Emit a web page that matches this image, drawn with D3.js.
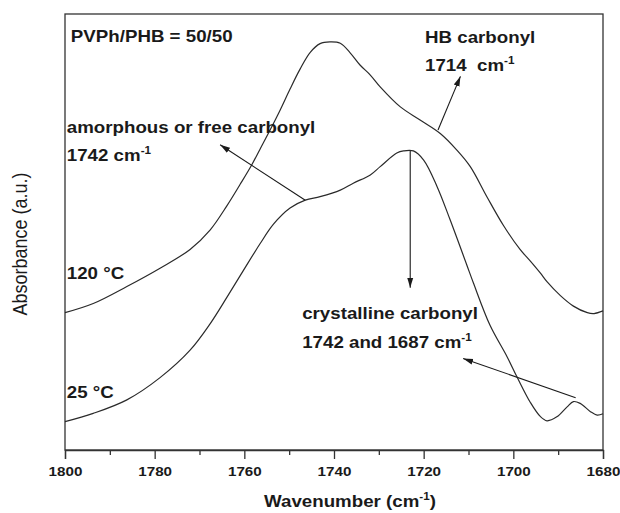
<!DOCTYPE html>
<html><head><meta charset="utf-8">
<script src="https://cdn.jsdelivr.net/npm/d3@7"></script>
<style>html,body{margin:0;padding:0;background:#fff;} svg{display:block;} text{white-space:pre;}</style>
</head><body><svg id="c" width="620" height="513"></svg>
<script>
// ---- data ----
const xTicks = [1800, 1780, 1760, 1740, 1720, 1700, 1680];
const xMinorTicks = [1790, 1770, 1750, 1730, 1710, 1690];
const xDomain = [1800, 1680];
const yDomain = [0, 100];

// 120 °C spectrum (wavenumber, absorbance a.u.)
const wn120 = [1800, 1793.7, 1786.2, 1778.8, 1772.1, 1767.6, 1763.9, 1760.9, 1758.3, 1756.5, 1754.2, 1752.0, 1749.8, 1747.6, 1745.3, 1743.1, 1740.9, 1738.6, 1736.4, 1734.2, 1731.9, 1729.7, 1725.2, 1720.8, 1716.3, 1712.6, 1709.6, 1705.9, 1702.2, 1698.5, 1696.2, 1694.0, 1692.5, 1689.5, 1686.6, 1683.5, 1682.0, 1680];
const abs120 = [31.5, 33.6, 37.5, 41.7, 46.0, 50.5, 56.0, 61.0, 65.5, 69.0, 73.5, 78.0, 82.8, 87.3, 91.2, 93.2, 93.6, 93.3, 91.1, 88.3, 86.0, 83.3, 78.7, 75.7, 72.6, 68.8, 65.0, 58.1, 51.5, 46.0, 43.3, 40.6, 38.6, 35.4, 33.0, 31.5, 31.3, 31.9];

// 25 °C spectrum
const wn25 = [1800, 1793.7, 1786.2, 1778.8, 1772.1, 1767.6, 1763.9, 1760.2, 1756.5, 1753.5, 1749.8, 1746.4, 1743.1, 1738.6, 1735.7, 1731.9, 1729.7, 1726.0, 1724.5, 1722.3, 1720.0, 1717.0, 1714.1, 1710.4, 1708.9, 1705.2, 1701.4, 1699.2, 1696.2, 1694.0, 1692.5, 1690.3, 1688.0, 1686.6, 1685.1, 1682.8, 1681.3, 1680];
const abs25 = [6.5, 8.4, 11.5, 16.6, 22.9, 29.0, 35.0, 41.2, 47.3, 51.8, 55.5, 57.3, 58.1, 59.6, 61.2, 63.1, 65.0, 68.1, 68.6, 68.6, 66.5, 60.4, 52.8, 42.5, 38.3, 28.6, 21.4, 16.8, 10.9, 7.7, 6.7, 7.6, 9.9, 11.1, 10.7, 8.8, 8.0, 8.3];

// annotation texts (anchor in data coordinates: wavenumber, absorbance)
const labelText = ["PVPh/PHB = 50/50", "amorphous or free carbonyl", "1742 cm", "HB carbonyl", "1714  cm", "120 °C", "25 °C", "crystalline carbonyl", "1742 and 1687 cm"];
const labelSup = ["", "", "-1", "", "-1", "", "", "", "-1"];
const labelWn = [1798.7, 1799.6, 1799.6, 1719.7, 1719.7, 1799.6, 1799.6, 1747.1, 1747.1];
const labelAbs = [93.6, 72.7, 66.3, 93.3, 86.9, 39.2, 11.9, 30.0, 23.4];

// arrows: from (wn, abs) to (wn, abs)
const arrowFromWn = [1746.4, 1716.8, 1723.0, 1686.1];
const arrowFromAbs = [57.3, 73.4, 68.6, 12.0];
const arrowToWn = [1765.4, 1711.8, 1723.0, 1711.2];
const arrowToAbs = [70.0, 85.7, 37.2, 21.0];

const xTitle = "Wavenumber (cm";
const yTitle = "Absorbance (a.u.)";

// ---- drawing ----
const W = 620, H = 513;
const m = {left: 65, right: 17, top: 14, bottom: 63};
const svg = d3.select("#c");
const x = d3.scaleLinear().domain(xDomain).range([m.left, W - m.right]);
const y = d3.scaleLinear().domain(yDomain).range([H - m.bottom, m.top]);
const FONT = "'Liberation Sans', Arial, Helvetica, sans-serif";
const SX = 1.17;
const ink = "#1a1a1a";

const defs = svg.append("defs");
defs.append("marker").attr("id", "ah").attr("viewBox", "0 -4 10 8")
  .attr("refX", 10).attr("refY", 0).attr("markerWidth", 10).attr("markerHeight", 8)
  .attr("markerUnits", "userSpaceOnUse").attr("orient", "auto")
  .append("path").attr("d", "M0,-3L10,0L0,3Z").attr("fill", ink);

// frame
svg.append("rect").attr("x", x(1800)).attr("y", y(100))
  .attr("width", x(1680) - x(1800)).attr("height", y(0) - y(100))
  .attr("fill", "none").attr("stroke", "#333").attr("stroke-width", 1.3);

// axis
const xAxis = d3.axisBottom(x).tickValues(xTicks).tickFormat(d3.format("d")).tickSize(9).tickPadding(8);
const gx = svg.append("g").attr("transform", `translate(0,${y(0)})`).call(xAxis);
gx.select(".domain").attr("stroke", "#333").attr("stroke-width", 1.3);
gx.selectAll(".tick line").attr("stroke", "#333").attr("stroke-width", 1.3);
gx.selectAll(".tick text").attr("font-family", FONT).attr("font-weight", "bold")
  .attr("font-size", 13).attr("fill", ink).attr("transform", `scale(${SX},1)`);
const gm = svg.append("g").attr("transform", `translate(0,${y(0)})`)
  .call(d3.axisBottom(x).tickValues(xMinorTicks).tickSize(5).tickFormat(""));
gm.select(".domain").remove();
gm.selectAll(".tick line").attr("stroke", "#333").attr("stroke-width", 1.3);

// curves
const line = d3.line().x(d => x(d[0])).y(d => y(d[1])).curve(d3.curveCatmullRom.alpha(0.5));
const s120 = wn120.map((w, i) => [w, abs120[i]]).sort((a, b) => x(a[0]) - x(b[0]));
const s25 = wn25.map((w, i) => [w, abs25[i]]).sort((a, b) => x(a[0]) - x(b[0]));
[s120, s25].forEach(s => {
  svg.append("path").datum(s).attr("d", line)
    .attr("fill", "none").attr("stroke", "#2a2a2a").attr("stroke-width", 1.2);
});

// arrows
arrowFromWn.forEach((w, i) => {
  svg.append("line").attr("x1", x(w)).attr("y1", y(arrowFromAbs[i]))
    .attr("x2", x(arrowToWn[i])).attr("y2", y(arrowToAbs[i]))
    .attr("stroke", ink).attr("stroke-width", 1.1).attr("marker-end", "url(#ah)");
});

// labels
labelText.forEach((t, i) => {
  const tx = svg.append("text")
    .attr("transform", `translate(${x(labelWn[i])},${y(labelAbs[i])}) scale(${SX},1)`)
    .attr("font-family", FONT).attr("font-weight", "bold").attr("font-size", 16).attr("fill", ink);
  tx.append("tspan").text(t);
  if (labelSup[i]) tx.append("tspan").attr("font-size", 10).attr("dy", -7).text(labelSup[i]);
});

// axis titles
const xt = svg.append("text")
  .attr("transform", `translate(${(x(1800) + x(1680)) / 2 + 16},${H - 6}) scale(${SX},1)`)
  .attr("text-anchor", "middle").attr("font-family", FONT).attr("font-weight", "bold")
  .attr("font-size", 16).attr("fill", ink);
xt.append("tspan").text(xTitle);
xt.append("tspan").attr("font-size", 10).attr("dy", -7).text("-1");
xt.append("tspan").attr("dy", 7).text(")");

svg.append("text")
  .attr("transform", `translate(27,${(y(0) + y(100)) / 2 + 12}) scale(${SX},1) rotate(-90)`)
  .attr("text-anchor", "middle").attr("font-family", FONT).attr("font-size", 18)
  .attr("fill", ink).text(yTitle);
</script></body></html>
